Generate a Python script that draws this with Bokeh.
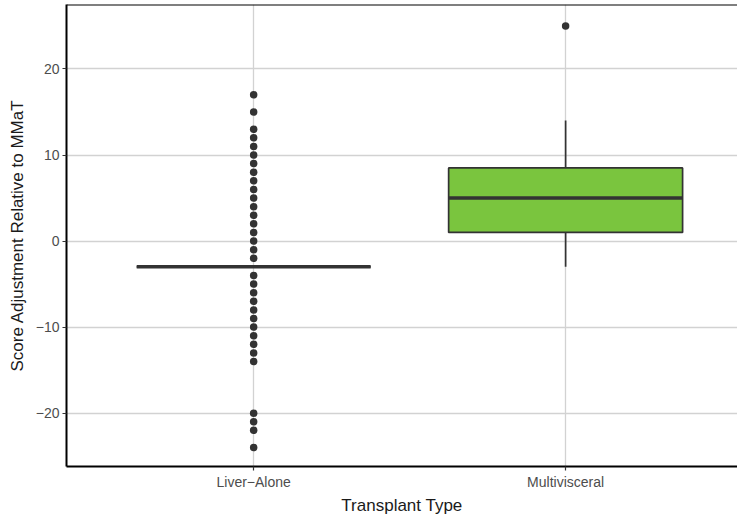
from bokeh.plotting import figure
from bokeh.models import Range1d, FixedTicker, Span
from bokeh.embed import file_html
from bokeh.resources import INLINE

# ---- data ----
categories = ["Liver\u2212Alone", "Multivisceral"]
q1 = [-3, 1]
median = [-3, 5]
q3 = [-3, 8.5]
whisker_lo = [-3, -3]
whisker_hi = [-3, 14]
outliers_liver = [17, 15, 13, 12, 11, 10, 9, 8, 7, 6, 5, 4, 3, 2, 1, 0, -1, -2,
                  -4, -5, -6, -7, -8, -9, -10, -11, -12, -13, -14, -20, -21, -22, -24]
outliers_multi = [25]
y_ticks = [-20, -10, 0, 10, 20]
box_colors = [None, "#7AC53E"]

FONT = "Liberation Sans"
DARK = "#333333"

x_pos = [i + 1 for i in range(len(categories))]
box_w = 0.75
Y_TOP = 27.49

p = figure(width=737, height=517, output_backend="svg", toolbar_location=None,
           x_range=Range1d(0.4, 2.551), y_range=Range1d(-26.2, Y_TOP),
           min_border_left=66, min_border_right=0, min_border_top=4, min_border_bottom=46)
p.outline_line_color = None
p.background_fill_color = "white"
p.border_fill_color = "white"

# grid
p.xgrid.ticker = FixedTicker(ticks=x_pos)
p.ygrid.ticker = FixedTicker(ticks=y_ticks)
for g in (p.xgrid, p.ygrid):
    g.grid_line_color = "#d2d2d2"
    g.grid_line_width = 1.3

# axes
p.xaxis.ticker = FixedTicker(ticks=x_pos)
p.xaxis.major_label_overrides = {x: c for x, c in zip(x_pos, categories)}
p.yaxis.ticker = FixedTicker(ticks=y_ticks)
p.yaxis.major_label_overrides = {t: (str(t).replace("-", "\u2212")) for t in y_ticks}
for ax in (p.xaxis, p.yaxis):
    ax.axis_line_color = "black"
    ax.axis_line_width = 2
    ax.major_tick_line_color = DARK
    ax.major_tick_line_width = 1.2
    ax.major_tick_out = 4
    ax.major_tick_in = 0
    ax.minor_tick_out = 0
    ax.minor_tick_in = 0
    ax.major_label_text_font = FONT
    ax.major_label_text_font_size = "14px"
    ax.major_label_text_color = "#4d4d4d"
    ax.axis_label_text_font = FONT
    ax.axis_label_text_font_size = "17px"
    ax.axis_label_text_font_style = "normal"
    ax.axis_label_text_color = "#1a1a1a"
p.xaxis.axis_label = "Transplant Type"
p.yaxis.axis_label = "Score Adjustment Relative to MMaT"
p.xaxis.major_label_standoff = 3
p.xaxis.axis_label_standoff = 3
p.yaxis.major_label_standoff = 3
p.yaxis.axis_label_standoff = 6

# top border
p.add_layout(Span(location=Y_TOP, dimension="width", line_color="black", line_width=2))

# whiskers
p.segment(x0=x_pos, x1=x_pos, y0=q3, y1=whisker_hi, line_color=DARK, line_width=1.7)
p.segment(x0=x_pos, x1=x_pos, y0=q1, y1=whisker_lo, line_color=DARK, line_width=1.7)

# boxes
fills = [c if c else "white" for c in box_colors]
p.vbar(x=x_pos, width=box_w, top=q3, bottom=q1, fill_color=fills,
       line_color=DARK, line_width=1.7)
# medians
p.segment(x0=[x - box_w / 2 for x in x_pos], x1=[x + box_w / 2 for x in x_pos],
          y0=median, y1=median, line_color=DARK, line_width=3.5)

# outliers
p.scatter(x=[x_pos[0]] * len(outliers_liver), y=outliers_liver, size=7.5,
          fill_color=DARK, line_color=None)
p.scatter(x=[x_pos[1]] * len(outliers_multi), y=outliers_multi, size=7.5,
          fill_color=DARK, line_color=None)

open("out.html", "w").write(file_html(p, INLINE))
